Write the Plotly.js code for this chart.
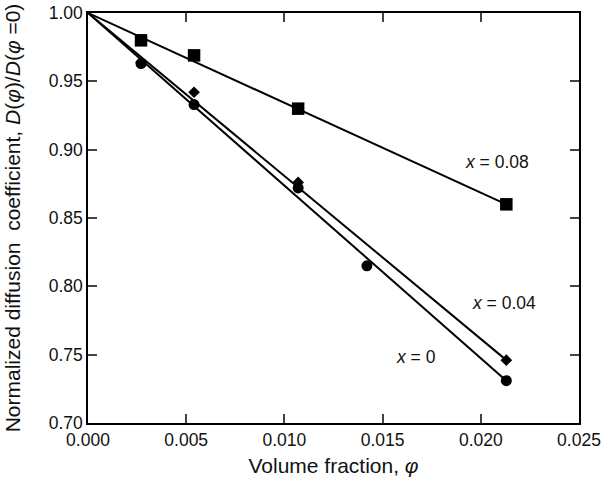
<!DOCTYPE html>
<html>
<head>
<meta charset="utf-8">
<script src="https://cdn.plot.ly/plotly-3.0.1.min.js"></script>
<style>
  body { margin: 0; background: white; }
  #chart { width: 602px; height: 487px; }
</style>
</head>
<body>
<div id="chart"></div>
<script>
// measured points, volume fraction vs normalized D
var phi0 = [0.0027, 0.0054, 0.0107, 0.0142, 0.0213];
var d0 = [0.963, 0.933, 0.872, 0.815, 0.731];

var phi04 = [0.0027, 0.0054, 0.0107, 0.0213];
var d04 = [0.964, 0.942, 0.876, 0.746];

var phi08 = [0.0027, 0.0054, 0.0107, 0.0213];
var d08 = [0.980, 0.969, 0.930, 0.860];

// straight fit lines, all start at phi = 0, D = 1
var fitX = [0, 0.0213];
var fit0 = [1.0, 0.731];
var fit04 = [1.0, 0.746];
var fit08 = [1.0, 0.860];

// curve labels
var labelText = ['<i>x</i> = 0.08', '<i>x</i> = 0.04', '<i>x</i> = 0'];
var labelX = [0.0208, 0.0212, 0.0167];
var labelY = [0.891, 0.788, 0.748];

var fnt = 'Liberation Sans, Arial, sans-serif';

function fitLine(y) {
  return {
    x: fitX, y: y, type: 'scatter', mode: 'lines',
    line: { color: 'black', width: 2 },
    hoverinfo: 'skip'
  };
}

function points(x, y, sym, size) {
  return {
    x: x, y: y, type: 'scatter', mode: 'markers',
    marker: { symbol: sym, size: size, color: 'black' }
  };
}

var data = [
  fitLine(fit08),
  fitLine(fit04),
  fitLine(fit0),
  points(phi08, d08, 'square', 12.5),
  points(phi04, d04, 'diamond', 9),
  points(phi0, d0, 'circle', 11)
];

var annotations = [];
for (var i = 0; i < labelText.length; i++) {
  annotations.push({
    x: labelX[i], y: labelY[i], text: labelText[i],
    showarrow: false, font: { family: fnt, size: 17.5, color: '#111' }
  });
}

var layout = {
  width: 602,
  height: 487,
  margin: { l: 88, r: 23, t: 13, b: 64 },
  showlegend: false,
  plot_bgcolor: 'white',
  paper_bgcolor: 'white',
  font: { family: fnt, size: 17.5, color: '#111' },
  xaxis: {
    range: [0, 0.025],
    dtick: 0.005,
    tickformat: '.3f',
    ticks: 'inside',
    ticklen: 9,
    tickwidth: 1.5,
    showline: true,
    linecolor: 'black',
    linewidth: 1.5,
    mirror: 'ticks',
    showgrid: false,
    zeroline: false,
    title: { text: 'Volume fraction, <i>φ</i>', standoff: 10, font: { size: 21 } }
  },
  yaxis: {
    range: [0.70, 1.00],
    dtick: 0.05,
    tickformat: '.2f',
    ticks: 'inside',
    ticklen: 9,
    tickwidth: 1.5,
    showline: true,
    linecolor: 'black',
    linewidth: 1.5,
    mirror: 'ticks',
    showgrid: false,
    zeroline: false,
    title: { text: 'Normalized diffusion  coefficient, <i>D</i>(<i>φ</i>)/<i>D</i>(<i>φ</i> =0)', standoff: 22, font: { size: 21 } }
  },
  annotations: annotations
};

Plotly.newPlot('chart', data, layout, { displayModeBar: false });
</script>
</body>
</html>
